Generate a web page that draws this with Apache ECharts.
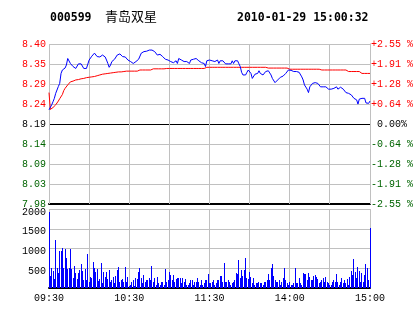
<!DOCTYPE html>
<html><head><meta charset="utf-8">
<script src="https://cdn.jsdelivr.net/npm/echarts@6/dist/echarts.min.js"></script>
<style>html,body{margin:0;padding:0;background:#fff}#c{width:414px;height:314px}</style>
</head><body><div id="c"></div>
<script>
const stockCode = '000599';
const stockName = '青岛双星';
const stamp = '2010-01-29 15:00:32';
const prevClose = 8.19;
const step = 0.05221; // price per grid row
const priceLabels = ['8.40','8.35','8.29','8.24','8.19','8.14','8.09','8.03','7.98'];
const pctLabels = ['+2.55 %','+1.91 %','+1.28 %','+0.64 %',' 0.00%','-0.64 %','-1.28 %','-1.91 %','-2.55 %'];
const volTicks = [500, 1000, 1500, 2000];
const timeTickIdx = [0, 60, 120, 180, 240];
const timeTicks = ['09:30','10:30','11:30','14:00','15:00'];
const halfHourIdx = [0, 30, 60, 90, 120, 150, 180, 210, 240];

const price = [
8.227,8.230,8.240,8.248,8.257,8.270,8.274,8.288,8.296,8.322,
8.331,8.327,8.336,8.344,8.361,8.366,8.348,8.344,8.340,8.335,
8.335,8.340,8.347,8.347,8.347,8.344,8.335,8.331,8.335,8.340,
8.357,8.361,8.367,8.370,8.375,8.370,8.366,8.366,8.365,8.361,
8.370,8.370,8.365,8.357,8.348,8.338,8.344,8.353,8.357,8.359,
8.361,8.370,8.375,8.373,8.370,8.366,8.370,8.365,8.361,8.357,
8.357,8.353,8.350,8.348,8.348,8.353,8.357,8.359,8.361,8.375,
8.375,8.379,8.383,8.380,8.375,8.383,8.383,8.383,8.385,8.379,
8.383,8.370,8.375,8.372,8.367,8.366,8.361,8.359,8.357,8.357,
8.361,8.353,8.357,8.350,8.348,8.355,8.348,8.361,8.359,8.357,
8.353,8.353,8.350,8.353,8.350,8.348,8.357,8.357,8.359,8.361,
8.361,8.357,8.355,8.353,8.350,8.353,8.348,8.340,8.355,8.350,
8.357,8.357,8.355,8.350,8.353,8.355,8.357,8.348,8.355,8.355,
8.355,8.353,8.347,8.347,8.347,8.347,8.347,8.355,8.348,8.355,
8.355,8.355,8.347,8.340,8.325,8.318,8.318,8.318,8.325,8.331,
8.327,8.322,8.309,8.312,8.320,8.322,8.322,8.329,8.322,8.320,
8.318,8.322,8.327,8.331,8.329,8.327,8.318,8.309,8.305,8.298,
8.300,8.305,8.309,8.312,8.312,8.315,8.320,8.322,8.324,8.331,
8.329,8.330,8.327,8.327,8.327,8.327,8.327,8.325,8.322,8.313,
8.305,8.292,8.287,8.281,8.272,8.287,8.290,8.296,8.292,8.298,
8.296,8.296,8.298,8.287,8.287,8.287,8.287,8.287,8.283,8.281,
8.286,8.281,8.286,8.283,8.281,8.287,8.281,8.286,8.286,8.286,
8.281,8.276,8.272,8.270,8.270,8.266,8.266,8.262,8.257,8.253,
8.253,8.242,8.255,8.257,8.257,8.257,8.257,8.245,8.242,8.244,
8.250];

const avgPrice = [
8.272,8.228,8.230,8.233,8.237,8.240,8.245,8.250,8.256,8.261,
8.267,8.277,8.283,8.288,8.292,8.296,8.300,8.301,8.302,8.303,
8.305,8.305,8.306,8.307,8.308,8.309,8.309,8.310,8.311,8.311,
8.312,8.312,8.313,8.314,8.314,8.315,8.316,8.317,8.318,8.319,
8.320,8.321,8.321,8.322,8.322,8.323,8.323,8.324,8.324,8.325,
8.325,8.325,8.326,8.326,8.326,8.327,8.327,8.328,8.328,8.328,
8.328,8.328,8.328,8.328,8.328,8.328,8.328,8.328,8.331,8.331,
8.331,8.331,8.331,8.331,8.331,8.331,8.331,8.334,8.334,8.334,
8.334,8.334,8.334,8.334,8.334,8.334,8.334,8.334,8.335,8.335,
8.335,8.335,8.335,8.335,8.335,8.335,8.335,8.335,8.335,8.335,
8.335,8.335,8.335,8.335,8.335,8.335,8.335,8.335,8.335,8.335,
8.335,8.335,8.335,8.335,8.335,8.335,8.335,8.338,8.338,8.338,
8.338,8.338,8.338,8.338,8.338,8.338,8.338,8.338,8.338,8.338,
8.338,8.338,8.338,8.338,8.338,8.338,8.338,8.338,8.338,8.338,
8.338,8.338,8.338,8.338,8.338,8.338,8.338,8.338,8.338,8.338,
8.338,8.338,8.338,8.338,8.338,8.338,8.338,8.338,8.338,8.338,
8.338,8.338,8.338,8.336,8.336,8.336,8.336,8.336,8.336,8.336,
8.336,8.336,8.336,8.336,8.336,8.336,8.336,8.336,8.336,8.336,
8.333,8.333,8.333,8.333,8.333,8.333,8.333,8.333,8.333,8.333,
8.333,8.333,8.333,8.333,8.333,8.333,8.333,8.333,8.333,8.333,
8.333,8.333,8.333,8.333,8.331,8.331,8.331,8.331,8.331,8.331,
8.331,8.331,8.331,8.331,8.331,8.331,8.331,8.331,8.331,8.331,
8.331,8.331,8.331,8.331,8.327,8.327,8.327,8.327,8.327,8.327,
8.327,8.327,8.327,8.327,8.322,8.322,8.322,8.322,8.322,8.322,
8.322];

const volume = [
1915,303,498,430,228,1214,498,388,936,936,
1004,498,987,751,473,498,987,481,245,557,
371,220,371,455,607,438,202,481,202,860,
160,270,245,666,498,413,481,177,220,624,
135,413,270,413,220,455,160,202,287,135,
303,455,540,160,202,220,160,540,143,287,
51,76,160,202,51,245,220,413,498,245,
118,329,160,202,202,245,202,557,160,245,
76,270,118,76,160,160,76,481,160,202,
413,329,202,329,160,220,245,245,245,135,
245,160,220,76,76,135,202,202,76,160,
160,245,160,76,202,76,135,202,202,354,
135,118,160,202,76,135,202,202,303,303,
160,624,160,160,202,160,76,135,160,202,
388,354,708,245,455,303,455,751,245,220,
413,270,135,245,76,135,118,160,118,118,
76,160,160,202,354,202,498,607,303,202,
160,160,202,76,160,245,498,202,135,76,
160,76,76,118,498,118,135,245,118,76,
371,354,354,202,388,287,202,202,303,329,
287,220,118,160,202,245,160,270,160,118,
76,76,160,202,160,354,160,76,160,245,
118,202,118,220,76,287,438,329,726,413,
245,523,438,160,388,160,329,607,498,202,
1510];

const toRow = p => (p - prevClose) / step;
const RED = '#ff0000', GREEN = '#006400', GRID = '#c0c0c0';
const FONT = 'Liberation Mono';
const lblColor = v => { v = Number(v); return v > 0 ? RED : (v < 0 ? GREEN : '#000'); };
const labelIdx = v => 4 - Math.round(Number(v));
const timeLabel = v => { const k = timeTickIdx.indexOf(Math.round(Number(v))); return k >= 0 ? timeTicks[k] : ''; };

const xBase = {type:'value', min:0, max:240, interval:30,
  axisLine:{show:true, onZero:false, lineStyle:{color:'#000', width:2}},
  axisTick:{show:false},
  splitLine:{show:false}};

// vertical half-hour grid lines, positioned through the x scale
const vGrid = (xi, yi) => ({
  type:'custom', xAxisIndex:xi, yAxisIndex:yi, silent:true, z:1,
  data: halfHourIdx.map(v => [v, 0]),
  renderItem: (params, api) => {
    const p = api.coord([api.value(0), 0]);
    const cs = params.coordSys;
    const x = Math.floor(p[0]) + 0.5;
    return {type:'line', shape:{x1:x, y1:cs.y, x2:x, y2:cs.y + cs.height},
            style:{stroke:GRID, lineWidth:1}};
  }
});

const chart = echarts.init(document.getElementById('c'), null, {renderer:'canvas'});
chart.setOption({
  animation: false,
  backgroundColor: '#fff',
  graphic: [
    {type:'text', left:50, top:12, style:{text:stockCode, font:'bold 11.5px "DejaVu Sans Mono"', fill:'#000'}},
    {type:'text', left:105, top:10, style:{text:stockName, font:'13px "Noto Sans CJK SC"', fill:'#000'}},
    {type:'text', left:237, top:12, style:{text:stamp, font:'bold 11.5px "DejaVu Sans Mono"', fill:'#000'}}
  ],
  grid: [
    {left:49, top:44, width:321, height:160, containLabel:false, outerBoundsMode:'none'},
    {left:49, top:209, width:321, height:79, containLabel:false, outerBoundsMode:'none'}
  ],
  xAxis: [
    Object.assign({}, xBase, {gridIndex:0, axisLabel:{show:false}}),
    Object.assign({}, xBase, {gridIndex:1,
      axisLabel:{show:true, formatter:timeLabel, color:'#000', fontFamily:FONT, fontSize:10, margin:5,
                 showMinLabel:true, showMaxLabel:true}})
  ],
  yAxis: [
    {type:'value', gridIndex:0, min:-4, max:4, interval:1, position:'left',
     axisLine:{show:false}, axisTick:{show:false},
     axisLabel:{formatter:v=>priceLabels[labelIdx(v)], color:lblColor, fontFamily:FONT, fontSize:10, margin:3},
     splitLine:{show:true, lineStyle:{width:1, color:['#000',GRID,GRID,GRID,'#000',GRID,GRID,GRID,GRID]}}},
    {type:'value', gridIndex:0, min:-4, max:4, interval:1, position:'right',
     axisLine:{show:true, lineStyle:{color:'#999'}}, axisTick:{show:false},
     axisLabel:{formatter:v=>pctLabels[labelIdx(v)], color:lblColor, fontFamily:FONT, fontSize:10, margin:1},
     splitLine:{show:false}},
    {type:'value', gridIndex:1, min:0, max:2000, interval:500, position:'left',
     axisLine:{show:false}, axisTick:{show:false},
     axisLabel:{formatter:v=>volTicks.indexOf(Number(v))>=0 ? String(v) : '', color:'#000', fontFamily:FONT, fontSize:10, margin:3,
                verticalAlign:'top', lineHeight:6},
     splitLine:{show:true, lineStyle:{color:GRID, width:1}}}
  ],
  series: [
    vGrid(0, 0),
    vGrid(1, 2),
    {type:'line', name:'avg', xAxisIndex:0, yAxisIndex:0, data:avgPrice.map((p,i)=>[i, toRow(p)]),
     showSymbol:false, symbol:'none', lineStyle:{color:RED, width:1}, z:3},
    {type:'line', name:'price', xAxisIndex:0, yAxisIndex:0, data:price.map((p,i)=>[i, toRow(p)]),
     showSymbol:false, symbol:'none', lineStyle:{color:'#0000ff', width:1}, z:4},
    {type:'custom', name:'vol', xAxisIndex:1, yAxisIndex:2, data:volume.map((v,i)=>[i, v]), z:3,
     renderItem:(params, api) => {
       const top = api.coord([api.value(0), api.value(1)]);
       const base = api.coord([api.value(0), 0]);
       const x = Math.floor(top[0]);
       const y = Math.round(top[1]);
       return {type:'rect', shape:{x:x, y:y, width:1, height:Math.round(base[1]) - y},
               style:{fill:'#0000ff'}};
     }}
  ]
});
</script></body></html>
